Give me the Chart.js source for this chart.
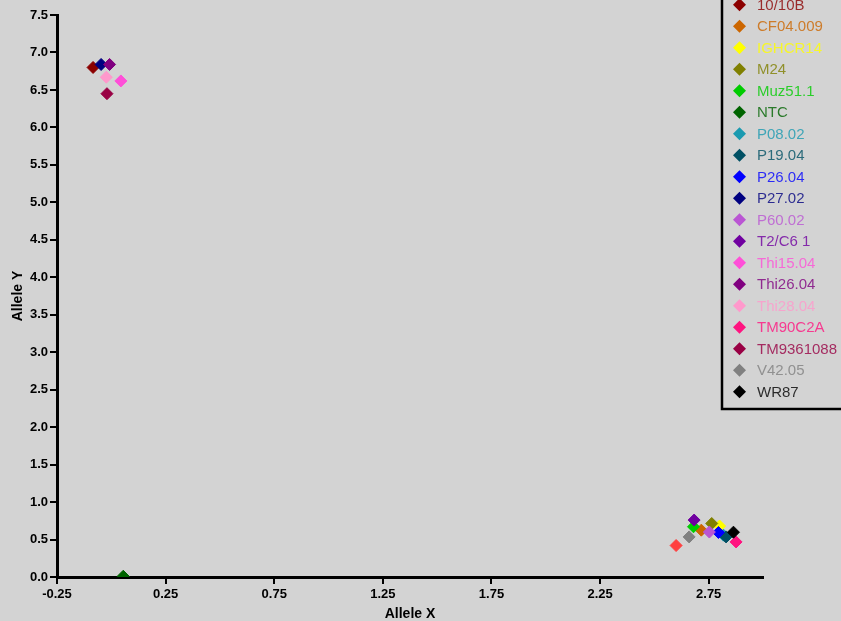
<!DOCTYPE html>
<html>
<head>
<meta charset="utf-8">
<title>Allele plot</title>
<script src="https://cdn.jsdelivr.net/npm/chart.js@4/dist/chart.umd.min.js"></script>
<style>
    body { margin: 0; background: #d3d3d3; }
    #wrap { width: 841px; height: 621px; position: relative; }
</style>
</head>
<body>
<div id="wrap"><canvas id="allelePlot"></canvas></div>
<script>
// Sample names, in legend order (first entry sits above the visible part of the legend)
const sampleNames = ['09/11A', '10/10B', 'CF04.009', 'IGHCR14', 'M24', 'Muz51.1', 'NTC', 'P08.02', 'P19.04',
    'P26.04', 'P27.02', 'P60.02', 'T2/C6 1', 'Thi15.04', 'Thi26.04', 'Thi28.04', 'TM90C2A', 'TM9361088',
    'V42.05', 'WR87'];
const sampleColors = ['#ff4040', '#8b0000', '#cc6600', '#ffff00', '#808000', '#00cc00', '#006400', '#1a9ab0', '#005064',
    '#0000ff', '#000080', '#ba55d3', '#7000a0', '#ff4fd8', '#800080', '#ff99cc', '#ff1480', '#990044',
    '#808080', '#000000'];
// Allele X / Allele Y readings for each sample
const alleleX = [2.60, -0.084, 2.716, 2.80, 2.764, 2.68, 0.055, 2.818, 2.83,
    2.795, -0.047, 2.753, 2.683, 0.044, -0.008, -0.023, 2.876, -0.02,
    2.66, 2.864];
const alleleY = [0.42, 6.80, 0.625, 0.68, 0.714, 0.67, 0.01, 0.558, 0.535,
    0.594, 6.84, 0.60, 0.76, 6.62, 6.84, 6.67, 0.468, 6.45,
    0.535, 0.598];
// Tick labels
const xTickValues = [-0.25, 0.25, 0.75, 1.25, 1.75, 2.25, 2.75];
const yTickValues = [0, 0.5, 1, 1.5, 2, 2.5, 3, 3.5, 4, 4.5, 5, 5.5, 6, 6.5, 7, 7.5];

const FONT = '"Liberation Sans", Arial, sans-serif';
const BG = '#d3d3d3';

const datasets = sampleNames.map((name, i) => ({
    label: name,
    data: [{ x: alleleX[i], y: alleleY[i] }],
    backgroundColor: sampleColors[i],
    borderColor: sampleColors[i],
    borderWidth: 1,
    pointStyle: 'rectRot',
    pointRadius: 6,
    // later samples are drawn on top
    order: sampleNames.length - i
}));

// Paint the gray background over the whole canvas
const backgroundPlugin = {
    id: 'background',
    beforeDraw(chart) {
        const ctx = chart.ctx;
        ctx.save();
        ctx.fillStyle = BG;
        ctx.fillRect(0, 0, chart.width, chart.height);
        ctx.restore();
    }
};

// Legend box in the top-right corner, text coloured like the markers
const sideLegendPlugin = {
    id: 'sideLegend',
    afterDraw(chart) {
        const ctx = chart.ctx;
        const left = 722;
        const rowH = 21.5;
        const firstY = 4.7 - rowH; // first row is above the canvas edge
        const bottom = 409;
        ctx.save();
        ctx.fillStyle = BG;
        ctx.fillRect(left, -10, chart.width - left + 10, bottom + 10);
        ctx.strokeStyle = '#000';
        ctx.lineWidth = 2.5;
        ctx.strokeRect(left, -10, chart.width - left + 20, bottom + 10);
        ctx.font = '15px ' + FONT;
        ctx.textBaseline = 'middle';
        sampleNames.forEach((name, i) => {
            const y = firstY + i * rowH;
            const x = 739.5;
            const r = 6.5;
            ctx.fillStyle = sampleColors[i];
            ctx.beginPath();
            ctx.moveTo(x, y - r);
            ctx.lineTo(x + r, y);
            ctx.lineTo(x, y + r);
            ctx.lineTo(x - r, y);
            ctx.closePath();
            ctx.fill();
            // text looks a little washed out in the original
            ctx.globalAlpha = 0.8;
            ctx.fillText(name, 757, y + 1);
            ctx.globalAlpha = 1;
        });
        ctx.restore();
    }
};

const tickFont = { family: FONT, size: 13, weight: 'bold' };
const titleFont = { family: FONT, size: 14, weight: 'bold' };

new Chart(document.getElementById('allelePlot'), {
    type: 'scatter',
    data: { datasets: datasets },
    options: {
        responsive: true,
        maintainAspectRatio: false,
        animation: false,
        layout: { padding: { top: 15, right: 78, left: 0, bottom: 0 } },
        plugins: {
            legend: { display: false },
            tooltip: { enabled: false }
        },
        scales: {
            x: {
                type: 'linear',
                min: -0.25,
                max: 3.0,
                afterBuildTicks: scale => { scale.ticks = xTickValues.map(v => ({ value: v })); },
                afterFit: scale => { scale.height = 44; },
                border: { color: '#000', width: 3 },
                grid: { drawOnChartArea: false, drawTicks: true, tickLength: 7, color: '#000', lineWidth: 2 },
                ticks: {
                    color: '#000',
                    font: tickFont,
                    padding: 3,
                    maxRotation: 0,
                    autoSkip: false,
                    callback: v => v.toFixed(2)
                },
                title: { display: true, text: 'Allele X', color: '#000', font: titleFont, padding: { top: 0, bottom: -2 } }
            },
            y: {
                type: 'linear',
                min: 0,
                max: 7.5,
                afterBuildTicks: scale => { scale.ticks = yTickValues.map(v => ({ value: v })); },
                afterFit: scale => { scale.width = 57; },
                border: { color: '#000', width: 3 },
                grid: { drawOnChartArea: false, drawTicks: true, tickLength: 7, color: '#000', lineWidth: 2 },
                ticks: {
                    color: '#000',
                    font: tickFont,
                    padding: 2,
                    autoSkip: false,
                    callback: v => v.toFixed(1)
                },
                title: { display: true, text: 'Allele Y', color: '#000', font: titleFont, padding: { top: 10, bottom: 0 } }
            }
        }
    },
    plugins: [backgroundPlugin, sideLegendPlugin]
});
</script>
</body>
</html>
